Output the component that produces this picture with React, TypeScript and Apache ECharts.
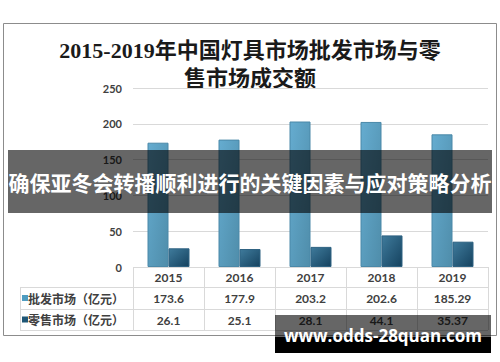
import React, { useEffect, useRef } from "react";
import * as echarts from "echarts";

const years = ["2015", "2016", "2017", "2018", "2019"];
const wholesale = [173.6, 177.9, 203.2, 202.6, 185.29];
const retail = [26.1, 25.1, 28.1, 44.1, 35.37];
const seriesNames = ["批发市场（亿元）", "零售市场（亿元）"];
const titleText = "2015-2019年中国灯具市场批发市场与零\n售市场成交额";
const bannerText = "确保亚冬会转播顺利进行的关键因素与应对策略分析";
const watermarkText = "www.odds-28quan.com";

const W = 500;
const H = 362;
const gridLeft = 133;
const gridRight = 12;
const gridTop = 88;
const gridBottom = 95;
const plotBottom = H - gridBottom; // 267
const tableLeft = 20;
const rowH = [20, 22, 21];

const numFont = "Lato, 'Open Sans', 'Noto Sans CJK SC', sans-serif";
const cjkFont = "'Noto Sans CJK SC', sans-serif";
const textColor = "#404040";
const lineColor = "#d9d9d9";

export default function App() {
  const ref = useRef<HTMLDivElement>(null);
  useEffect(() => {
    if (!ref.current) return;
    const chart = echarts.init(ref.current, undefined, { renderer: "svg" });
    const plotRight = W - gridRight;
    const colW = (plotRight - gridLeft) / years.length;
    const y0 = plotBottom;
    const y1 = y0 + rowH[0];
    const y2 = y1 + rowH[1];
    const y3 = y2 + rowH[2];

    const lines: any[] = [];
    const hl = (x1: number, x2: number, y: number) =>
      lines.push({ type: "line", silent: true, shape: { x1, y1: y + 0.5, x2, y2: y + 0.5 }, style: { stroke: lineColor, lineWidth: 1 } });
    const vl = (x: number, ya: number, yb: number) =>
      lines.push({ type: "line", silent: true, shape: { x1: x + 0.5, y1: ya, x2: x + 0.5, y2: yb }, style: { stroke: lineColor, lineWidth: 1 } });
    hl(gridLeft, plotRight, y0);
    hl(tableLeft, plotRight, y1);
    hl(tableLeft, plotRight, y2);
    hl(tableLeft, plotRight, y3);
    for (let i = 0; i <= years.length; i++) vl(gridLeft + i * colW, y0, y3);
    vl(tableLeft, y1, y3);

    const legendColors = ["#4e9cc0", "#1f5675"];
    const rowLabels: any[] = [];
    seriesNames.forEach((n, i) => {
      const cy = i === 0 ? (y1 + y2) / 2 : (y2 + y3) / 2;
      rowLabels.push({ type: "rect", shape: { x: 22, y: cy - 3, width: 6, height: 6 }, style: { fill: legendColors[i] } });
      rowLabels.push({
        type: "text", x: 28, y: cy,
        style: { text: n, fill: textColor, font: `bold 12px ${cjkFont}`, textVerticalAlign: "middle", textAlign: "left" },
      });
    });

    const extraAxis = (vals: number[], offset: number) => ({
      type: "category",
      data: vals.map((v) => String(v)),
      position: "bottom",
      offset,
      axisLine: { show: false },
      axisTick: { show: false },
      axisLabel: { margin: 4, color: textColor, fontWeight: "bold", fontSize: 12, fontFamily: numFont },
    });

    chart.setOption({
      animation: false,
      backgroundColor: "#ffffff",
      grid: { left: gridLeft, right: gridRight, top: gridTop, bottom: gridBottom },
      xAxis: [
        {
          type: "category",
          data: years,
          axisLine: { show: false },
          axisTick: { show: false },
          axisLabel: { margin: 4, color: textColor, fontWeight: "bold", fontSize: 12, fontFamily: numFont },
        },
        extraAxis(wholesale, rowH[0] + 1),
        extraAxis(retail, rowH[0] + rowH[1] + 1),
      ],
      yAxis: {
        type: "value",
        min: 0,
        max: 250,
        interval: 50,
        axisLine: { show: false },
        axisTick: { show: false },
        splitLine: { lineStyle: { color: lineColor, width: 1 } },
        axisLabel: { margin: 11, color: textColor, fontWeight: "bold", fontSize: 11, fontFamily: numFont },
      },
      series: [
        {
          name: seriesNames[0],
          type: "bar",
          data: wholesale,
          barWidth: 21,
          barGap: "0%",
          itemStyle: {
            color: new echarts.graphic.LinearGradient(0, 0, 1, 1, [
              { offset: 0, color: "#65acd0" },
              { offset: 1, color: "#4f8daa" },
            ]),
            borderColor: "#4a88a8",
            borderWidth: 1,
          },
        },
        {
          name: seriesNames[1],
          type: "bar",
          data: retail,
          barWidth: 21,
          itemStyle: {
            color: new echarts.graphic.LinearGradient(0, 0, 1, 1, [
              { offset: 0, color: "#3f7b9c" },
              { offset: 1, color: "#15425f" },
            ]),
            borderColor: "#2e6282",
            borderWidth: 1,
          },
        },
      ],
      graphic: [
        ...lines,
        ...rowLabels,
        {
          type: "text", x: 250, y: 36,
          style: {
            text: titleText,
            fill: "#1a1a1a",
            font: "bold 22px 'Liberation Serif', 'Noto Sans CJK SC', serif",
            lineHeight: 28,
            textAlign: "center",
            textVerticalAlign: "top",
          },
        },
        {
          type: "rect", silent: true,
          shape: { x: 3.5, y: 23.5, width: 493, height: 312 },
          style: { fill: "none", stroke: "#8c8c8c", lineWidth: 1 },
        },
        {
          type: "rect", z: 100,
          shape: { x: 8, y: 150, width: 484, height: 63 },
          style: { fill: "rgba(0,0,0,0.6)" },
        },
        {
          type: "text", z: 101, x: 250, y: 182,
          style: { text: bannerText, fill: "#ffffff", font: `bold 21px ${cjkFont}`, textAlign: "center", textVerticalAlign: "middle" },
        },
        {
          type: "rect", z: 100,
          shape: { x: 275, y: 315, width: 216, height: 22 },
          style: { fill: "rgba(0,0,0,0.6)" },
        },
        {
          type: "rect", z: 100,
          shape: { x: 275, y: 337, width: 216, height: 16 },
          style: { fill: "#000000" },
        },
        {
          type: "text", z: 101, x: 383, y: 335,
          style: { text: watermarkText, fill: "#ffffff", font: "bold 17px 'Open Sans', sans-serif", textAlign: "center", textVerticalAlign: "middle" },
        },
      ],
    });
    return () => chart.dispose();
  }, []);
  return <div ref={ref} style={{ position: "fixed", left: 0, top: 0, width: W, height: H }} />;
}
